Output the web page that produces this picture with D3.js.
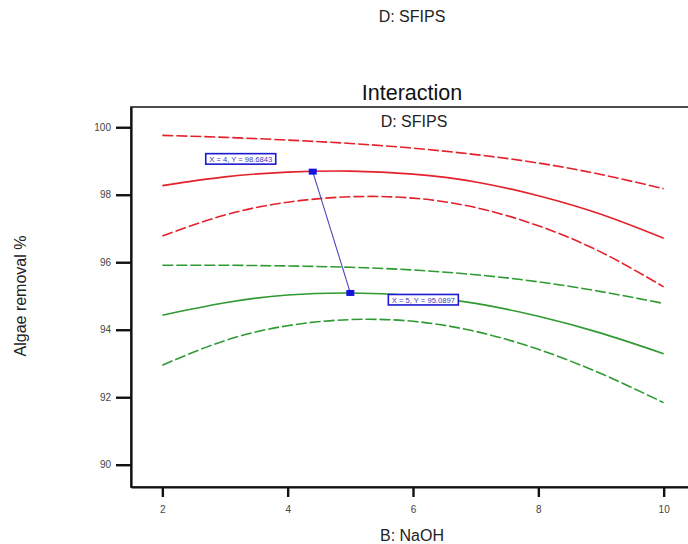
<!DOCTYPE html>
<html>
<head>
<meta charset="utf-8">
<script src="https://cdn.jsdelivr.net/npm/d3@7"></script>
<style>
  html, body { margin: 0; padding: 0; background: #fff; }
  svg { display: block; font-family: "Liberation Sans", Arial, sans-serif; }
</style>
</head>
<body>
<svg id="chart" width="688" height="544"></svg>
<script>
// NaOH levels (factor B)
const naoh = [2, 3, 4, 5, 6, 7, 8, 9, 10];

// Predicted algae removal (%) at the high SFIPS level, with 95% CI bands
const redPred  = [98.27, 98.53, 98.67, 98.70, 98.61, 98.38, 97.97, 97.42, 96.71];
const redUpper = [99.76, 99.70, 99.62, 99.52, 99.38, 99.19, 98.94, 98.60, 98.18];
const redLower = [96.78, 97.40, 97.78, 97.94, 97.90, 97.62, 97.08, 96.30, 95.27];

// Predicted algae removal (%) at the low SFIPS level, with 95% CI bands
const greenPred  = [94.43, 94.80, 95.03, 95.09, 95.01, 94.78, 94.40, 93.90, 93.29];
const greenUpper = [95.91, 95.91, 95.89, 95.85, 95.77, 95.63, 95.42, 95.13, 94.78];
const greenLower = [92.95, 93.68, 94.12, 94.30, 94.25, 93.95, 93.42, 92.70, 91.84];

// Flagged points and their read-outs
const flagX = [4.4, 5];
const flagY = [98.6843, 95.0897];
const flagText = ["X = 4, Y = 98.6843", "X = 5, Y = 95.0897"];

const xTicks = [2, 4, 6, 8, 10];
const yTicks = [90, 92, 94, 96, 98, 100];

const svg = d3.select("#chart");

const plotL = 131, plotR = 695, plotT = 107, plotB = 487;

const x = d3.scaleLinear().domain([1.5, 10.5]).range([plotL, plotR]);
const y = d3.scaleLinear().domain([89.34, 100.6]).range([plotB, plotT]);

// titles
svg.append("text").attr("x", 412).attr("y", 22).attr("text-anchor", "middle")
  .attr("font-size", 16).attr("fill", "#222").text("D: SFIPS");
svg.append("text").attr("x", 412).attr("y", 100).attr("text-anchor", "middle")
  .attr("font-size", 21.5).attr("fill", "#111").text("Interaction");

// plot frame
svg.append("rect").attr("x", plotL).attr("y", plotT)
  .attr("width", plotR - plotL).attr("height", plotB - plotT)
  .attr("fill", "none").attr("stroke", "#222").attr("stroke-width", 1.6);

svg.append("text").attr("x", 414).attr("y", 127).attr("text-anchor", "middle")
  .attr("font-size", 16).attr("fill", "#222").text("D: SFIPS");

// axes
const yAxis = d3.axisLeft(y).tickValues(yTicks).tickSize(15).tickSizeOuter(0)
  .tickPadding(5).tickFormat(d3.format("d"));
const gy = svg.append("g").attr("transform", `translate(${plotL},0)`).call(yAxis);
gy.select(".domain").attr("stroke", "#111").attr("stroke-width", 2.2);
gy.selectAll(".tick line").attr("stroke", "#111").attr("stroke-width", 2.4);
gy.selectAll(".tick text").attr("font-size", 10).attr("fill", "#444")
  .attr("font-family", "'Liberation Sans', Arial, sans-serif");

const xAxis = d3.axisBottom(x).tickValues(xTicks).tickSize(10).tickSizeOuter(0)
  .tickPadding(9).tickFormat(d3.format("d"));
const gx = svg.append("g").attr("transform", `translate(0,${plotB})`).call(xAxis);
gx.select(".domain").attr("stroke", "#111").attr("stroke-width", 2.2);
gx.selectAll(".tick line").attr("stroke", "#111").attr("stroke-width", 2.4);
gx.selectAll(".tick text").attr("font-size", 10).attr("fill", "#444")
  .attr("font-family", "'Liberation Sans', Arial, sans-serif");

// axis titles
svg.append("text").attr("x", 412).attr("y", 541).attr("text-anchor", "middle")
  .attr("font-size", 16).attr("fill", "#222").text("B: NaOH");
svg.append("text").attr("transform", "translate(26,296) rotate(-90)")
  .attr("text-anchor", "middle").attr("font-size", 16).attr("fill", "#222")
  .text("Algae removal %");

// response curves
const line = d3.line().x(d => x(d[0])).y(d => y(d[1])).curve(d3.curveNatural);
const series = [
  { v: redUpper, c: "#e4202a", dash: "11,3" },
  { v: redPred, c: "#e4202a", dash: null },
  { v: redLower, c: "#e4202a", dash: "11,3" },
  { v: greenUpper, c: "#2f9a32", dash: "11,3" },
  { v: greenPred, c: "#2f9a32", dash: null },
  { v: greenLower, c: "#2f9a32", dash: "11,3" }
];
svg.append("g").selectAll("path").data(series).join("path")
  .attr("d", s => line(naoh.map((n, i) => [n, s.v[i]])))
  .attr("fill", "none").attr("stroke", s => s.c).attr("stroke-width", 1.6)
  .attr("stroke-dasharray", s => s.dash);

// flag connector and markers
svg.append("line")
  .attr("x1", x(flagX[0])).attr("y1", y(flagY[0]))
  .attr("x2", x(flagX[1])).attr("y2", y(flagY[1]))
  .attr("stroke", "#4848b8").attr("stroke-width", 1.1);
svg.append("g").selectAll("rect").data(flagX).join("rect")
  .attr("x", (d) => x(d) - 4).attr("y", (d, i) => y(flagY[i]) - 3)
  .attr("width", 8).attr("height", 6).attr("fill", "#1414dc");

// read-out boxes
const boxOffsets = [[-107, -18], [38, 1.5]];
flagText.forEach((t, i) => {
  const g = svg.append("g")
    .attr("transform", `translate(${x(flagX[i]) + boxOffsets[i][0]},${y(flagY[i]) + boxOffsets[i][1]})`);
  g.append("rect").attr("width", 70).attr("height", 10.5)
    .attr("fill", "#fff").attr("stroke", "#1a1ad0").attr("stroke-width", 1.6);
  g.append("text").attr("x", 35).attr("y", 8.3).attr("text-anchor", "middle")
    .attr("font-size", 7.6).attr("fill", "#3a3ab8").text(t);
});
</script>
</body>
</html>
